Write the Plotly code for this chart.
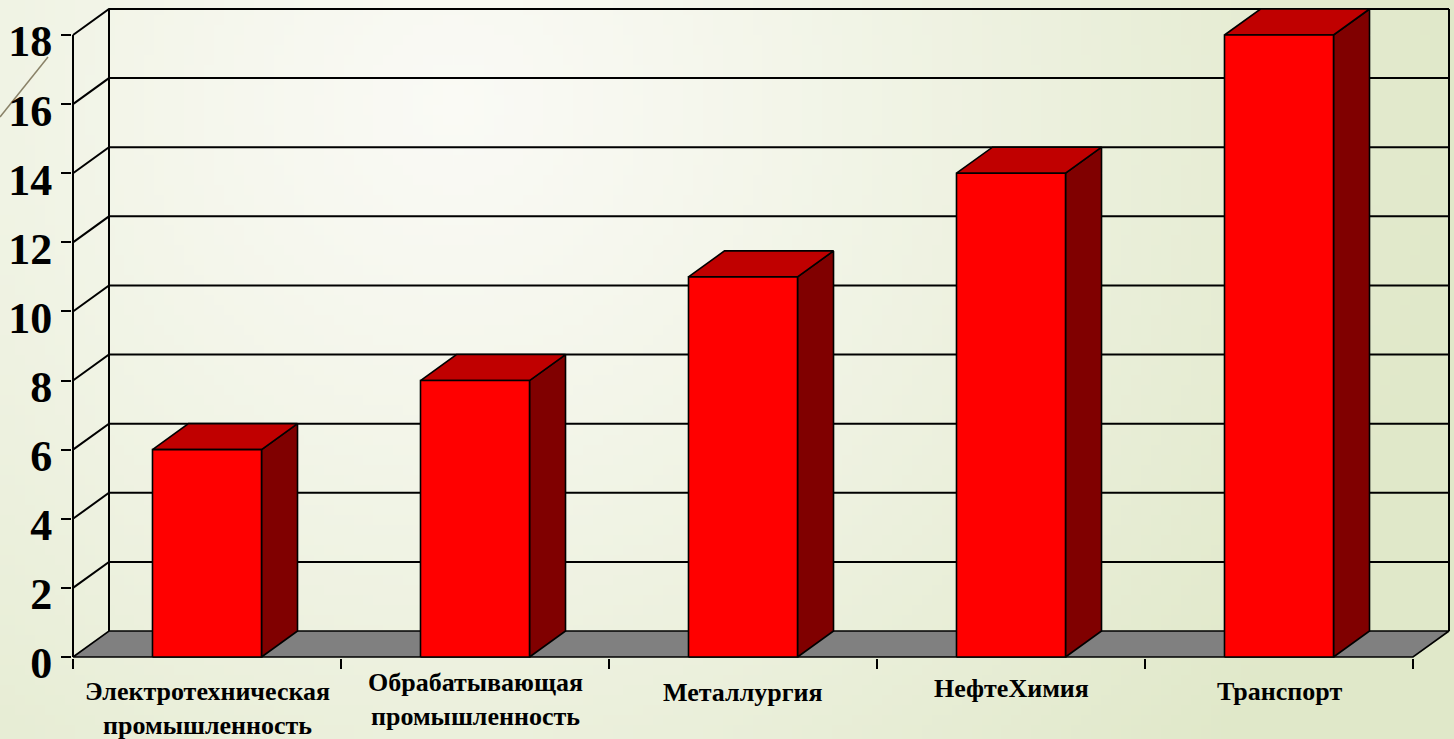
import base64
import struct
import zlib

import plotly.graph_objects as go

# ---------------- data ----------------
categories = [
    "Электротехническая<br>промышленность",
    "Обрабатывающая<br>промышленность",
    "Металлургия",
    "НефтеХимия",
    "Транспорт",
]
values = [6, 8, 11, 14, 18]
y_ticks = [0, 2, 4, 6, 8, 10, 12, 14, 16, 18]

# ---------------- geometry / style ----------------
W, H = 1454, 739
PX_CAT = 268.0            # pixels per category
PX_UNIT = 622.0 / 18.0    # pixels per value unit
DX = 36.0 / PX_CAT        # oblique depth (x) in category units
DY = 26.0 / PX_UNIT       # oblique depth (y) in value units
HALF = 0.2034             # half bar width in category units
M_L, M_R, M_T, M_B = 72, 1, 6, 81
plot_w = W - M_L - M_R
plot_h = H - M_T - M_B
x0 = -0.5 - 1.0 / PX_CAT
x_range = [x0, x0 + plot_w / PX_CAT]
y0 = -1.0 / PX_UNIT
y_range = [y0, y0 + plot_h / PX_UNIT]
label_yshift = [-50, -41, -34, -30, -33]

FONT = "Liberation Serif, Times New Roman, serif"
LINE = dict(color="black", width=1.6)
n = len(categories)
left, right = -0.5, n - 0.5
ymax = y_ticks[-1]


# ---------------- background gradient image ----------------
def make_png(w, h, fn):
    rows = []
    for j in range(h):
        row = bytearray([0])
        for i in range(w):
            row += bytes(fn(i, j))
        rows.append(bytes(row))
    raw = b"".join(rows)

    def chunk(tag, data):
        c = struct.pack(">I", len(data)) + tag + data
        return c + struct.pack(">I", zlib.crc32(tag + data) & 0xFFFFFFFF)

    ihdr = struct.pack(">IIBBBBB", w, h, 8, 2, 0, 0, 0)
    return (b"\x89PNG\r\n\x1a\n" + chunk(b"IHDR", ihdr)
            + chunk(b"IDAT", zlib.compress(raw, 9)) + chunk(b"IEND", b""))


GW, GH = 146, 74
c_in = (250, 250, 245)
c_out = (224, 232, 201)


def grad(i, j):
    px, py = i * W / GW, j * H / GH
    d = ((px - 450) ** 2 + (py - 100) ** 2) ** 0.5
    t = min(1.0, d / 1000.0) ** 1.2
    return [int(round(a + (b - a) * t)) for a, b in zip(c_in, c_out)]


bg_src = "data:image/png;base64," + base64.b64encode(make_png(GW, GH, grad)).decode()

fig = go.Figure()

# ---------------- back wall grid + side wall ----------------
gx, gy = [], []
for v in y_ticks[1:]:
    gx += [left, left + DX, right + DX, None]
    gy += [v, v + DY, v + DY, None]
# wall verticals
gx += [left + DX, left + DX, None, right + DX, right + DX, None]
gy += [DY, ymax + DY, None, DY, ymax + DY, None]
fig.add_trace(go.Scatter(x=gx, y=gy, mode="lines", line=dict(color="black", width=2),
                         hoverinfo="skip", showlegend=False))

# ---------------- floor ----------------
fig.add_trace(go.Scatter(
    x=[left, right, right + DX, left + DX, left],
    y=[0, 0, DY, DY, 0],
    mode="lines", fill="toself", fillcolor="#808080", line=LINE,
    hoverinfo="skip", showlegend=False))

# ---------------- bars ----------------
fx, fy, tx, ty, sx, sy = [], [], [], [], [], []
for i, v in enumerate(values):
    a, b = i - HALF, i + HALF
    fx += [a, b, b, a, a, None]
    fy += [0, 0, v, v, 0, None]
    tx += [a, b, b + DX, a + DX, a, None]
    ty += [v, v, v + DY, v + DY, v, None]
    sx += [b, b + DX, b + DX, b, b, None]
    sy += [0, DY, v + DY, v, 0, None]

for xs, ys, col in [(sx, sy, "#800000"), (tx, ty, "#c00000"), (fx, fy, "#ff0000")]:
    fig.add_trace(go.Scatter(x=xs, y=ys, mode="lines", fill="toself", fillcolor=col,
                             line=LINE, hoverinfo="skip", showlegend=False))

# front value axis line
fig.add_trace(go.Scatter(x=[left, left], y=[0, ymax], mode="lines",
                         line=dict(color="black", width=2),
                         hoverinfo="skip", showlegend=False))

# ---------------- category labels ----------------
for i, (cat, sh) in enumerate(zip(categories, label_yshift)):
    fig.add_annotation(x=i, y=0, xref="x", yref="paper", text=cat, showarrow=False,
                       yanchor="middle", xanchor="center", yshift=sh,
                       font=dict(family=FONT, size=26, color="black", weight="bold"))

fig.update_layout(
    width=W, height=H,
    margin=dict(l=M_L, r=M_R, t=M_T, b=M_B, pad=0),
    paper_bgcolor="#eef1e2", plot_bgcolor="rgba(0,0,0,0)",
    showlegend=False,
    images=[dict(source=bg_src, xref="paper", yref="paper",
                 x=-M_L / plot_w, y=1 + M_T / plot_h,
                 sizex=W / plot_w, sizey=H / plot_h,
                 xanchor="left", yanchor="top", sizing="stretch", layer="below")],
    shapes=[dict(type="line", xref="paper", yref="paper",
                 x0=-M_L / plot_w, y0=1 - (117 - M_T) / plot_h,
                 x1=(48 - M_L) / plot_w, y1=1 - (57 - M_T) / plot_h,
                 line=dict(color="#8a8268", width=1.5), layer="below")],
)
fig.update_xaxes(range=x_range, showgrid=False, zeroline=False, showline=False,
                 tickmode="array", tickvals=[k - 0.5 for k in range(n + 1)],
                 ticks="outside", ticklen=10, tickwidth=2, tickcolor="black",
                 showticklabels=False, fixedrange=True)
fig.update_yaxes(range=y_range, showgrid=False, zeroline=False, showline=False,
                 tickmode="array", tickvals=y_ticks, ticktext=[str(t) for t in y_ticks],
                 ticks="outside", ticklen=10, tickwidth=2, tickcolor="black",
                 ticklabelstandoff=0, ticklabelshift=6,
                 tickfont=dict(family=FONT, size=44, color="black", weight="bold"),
                 fixedrange=True)

fig.write_html("out.html", config={"displayModeBar": False})
